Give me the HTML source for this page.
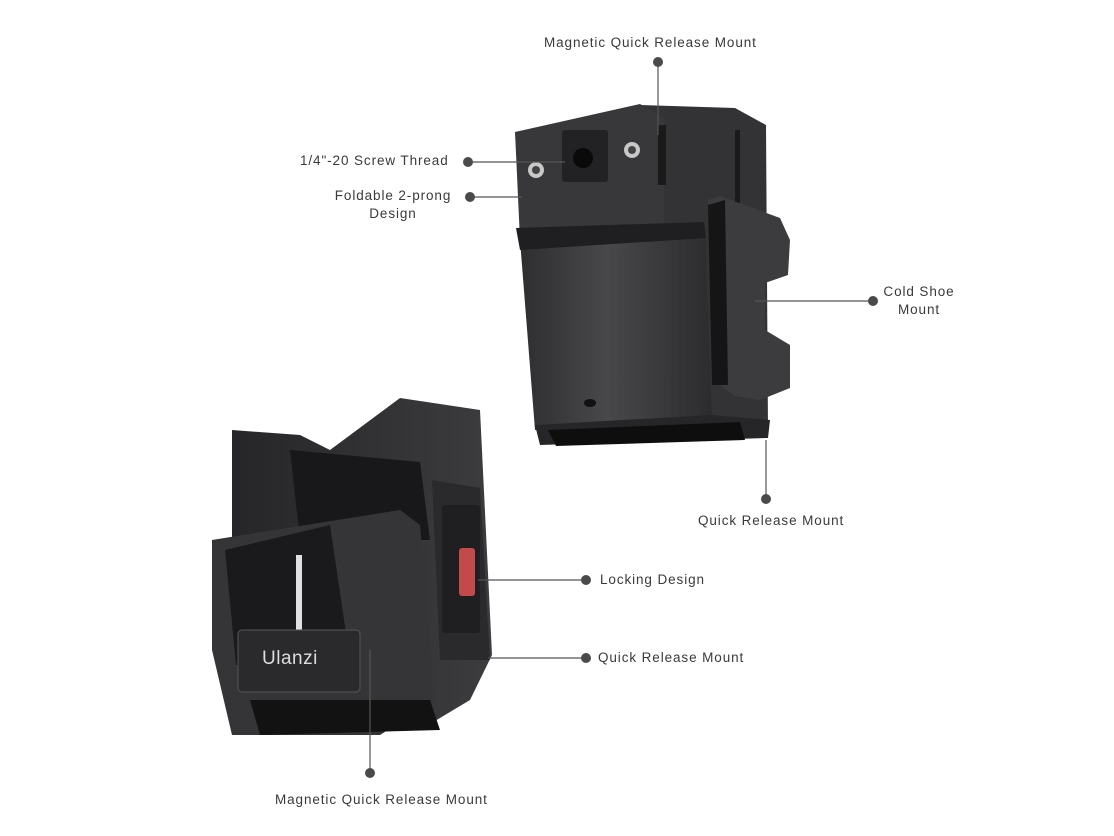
<!DOCTYPE html>
<html><head><meta charset="utf-8"><style>
html,body{margin:0;padding:0;background:#fff;}
body{width:1114px;height:836px;position:relative;overflow:hidden;font-family:"Liberation Sans",sans-serif;}
.t{position:absolute;font-size:13.5px;color:#3a3a3a;line-height:18px;white-space:nowrap;letter-spacing:0.9px}
</style></head><body>
<svg width="1114" height="836" style="position:absolute;left:0;top:0">
<defs>
<linearGradient id="g1" x1="0" x2="1"><stop offset="0" stop-color="#2e2e30"/><stop offset="0.45" stop-color="#48484b"/><stop offset="1" stop-color="#2c2c2e"/></linearGradient>
<linearGradient id="g2" x1="0" x2="1"><stop offset="0" stop-color="#262628"/><stop offset="1" stop-color="#3c3c3f"/></linearGradient>
</defs>
<!-- top product -->
<path d="M640 105 L735 108 L766 125 L768 430 L705 440 L660 235 L660 120 Z" fill="#333336"/>
<path d="M520 240 L705 230 L712 420 L535 430 Z" fill="url(#g1)"/>
<path d="M515 132 L640 104 L664 118 L664 230 L520 240 Z" fill="#38383b"/>
<path d="M516 228 L704 222 L706 238 L520 250 Z" fill="#1f1f21"/>
<rect x="658" y="125" width="8" height="60" fill="#1a1a1b"/>
<rect x="735" y="130" width="5" height="90" fill="#1a1a1b"/>
<path d="M708 200 L720 196 L780 218 L790 240 L788 275 L765 283 L765 330 L790 345 L790 388 L760 400 L735 396 L712 380 Z" fill="#3c3c3f"/>
<path d="M708 205 L725 200 L728 385 L712 385 Z" fill="#151516"/>
<path d="M535 425 L712 415 L770 420 L768 438 L540 445 Z" fill="#262628"/>
<path d="M548 430 L740 422 L745 440 L556 446 Z" fill="#0e0e0f"/>
<rect x="562" y="130" width="46" height="52" rx="3" fill="#222224"/>
<circle cx="583" cy="158" r="10" fill="#0a0a0a"/>
<circle cx="536" cy="170" r="8" fill="#c8c8c8"/><circle cx="536" cy="170" r="4" fill="#444"/>
<circle cx="632" cy="150" r="8" fill="#c8c8c8"/><circle cx="632" cy="150" r="4" fill="#444"/>
<ellipse cx="590" cy="403" rx="6" ry="4" fill="#111"/>
<!-- bottom product -->
<path d="M232 430 L300 435 L330 450 L400 398 L480 410 L492 655 L470 700 L420 730 L240 735 L232 700 Z" fill="url(#g2)"/>
<path d="M290 450 L420 462 L430 540 L300 540 Z" fill="#18181a"/>
<path d="M212 540 L400 510 L420 525 L435 700 L380 735 L232 735 L212 650 Z" fill="#353538"/>
<path d="M225 550 L330 525 L350 660 L236 665 Z" fill="#1a1a1c"/>
<rect x="296" y="555" width="6" height="75" fill="#e0e0e0"/>
<rect x="238" y="630" width="122" height="62" rx="4" fill="#2a2a2c" stroke="#555" stroke-width="1"/>
<path d="M432 480 L480 488 L490 660 L440 660 Z" fill="#2a2a2c"/>
<rect x="442" y="505" width="38" height="128" rx="3" fill="#1f1f21"/>
<rect x="459" y="548" width="16" height="48" rx="3" fill="#c24a4a"/>
<path d="M250 700 L430 700 L440 730 L260 735 Z" fill="#121213"/>
<!-- callouts -->
<g stroke="#555" stroke-width="1.2" fill="none">
<line x1="658" y1="62" x2="658" y2="135"/>
<line x1="468" y1="162" x2="565" y2="162"/>
<line x1="470" y1="197" x2="522" y2="197"/>
<line x1="873" y1="301" x2="755" y2="301"/>
<line x1="766" y1="499" x2="766" y2="440"/>
<line x1="586" y1="580" x2="478" y2="580"/>
<line x1="586" y1="658" x2="488" y2="658"/>
<line x1="370" y1="773" x2="370" y2="650"/>
</g>
<g fill="#4a4a4c">
<circle cx="658" cy="62" r="5"/><circle cx="468" cy="162" r="5"/><circle cx="470" cy="197" r="5"/>
<circle cx="873" cy="301" r="5"/><circle cx="766" cy="499" r="5"/><circle cx="586" cy="580" r="5"/>
<circle cx="586" cy="658" r="5"/><circle cx="370" cy="773" r="5"/>
</g>
</svg>
<div class="t" style="left:262px;top:650px;font-size:19px;color:#ddd;letter-spacing:0.5px">Ulanzi</div>
<div class="t" style="left:544px;top:34px">Magnetic Quick Release Mount</div>
<div class="t" style="left:300px;top:152px">1/4"-20 Screw Thread</div>
<div class="t" style="left:325px;top:187px;text-align:center;width:136px">Foldable 2-prong<br>Design</div>
<div class="t" style="left:876px;top:283px;text-align:center;width:86px">Cold Shoe<br>Mount</div>
<div class="t" style="left:698px;top:512px">Quick Release Mount</div>
<div class="t" style="left:600px;top:571px">Locking Design</div>
<div class="t" style="left:598px;top:649px">Quick Release Mount</div>
<div class="t" style="left:275px;top:791px">Magnetic Quick Release Mount</div>
</body></html>
